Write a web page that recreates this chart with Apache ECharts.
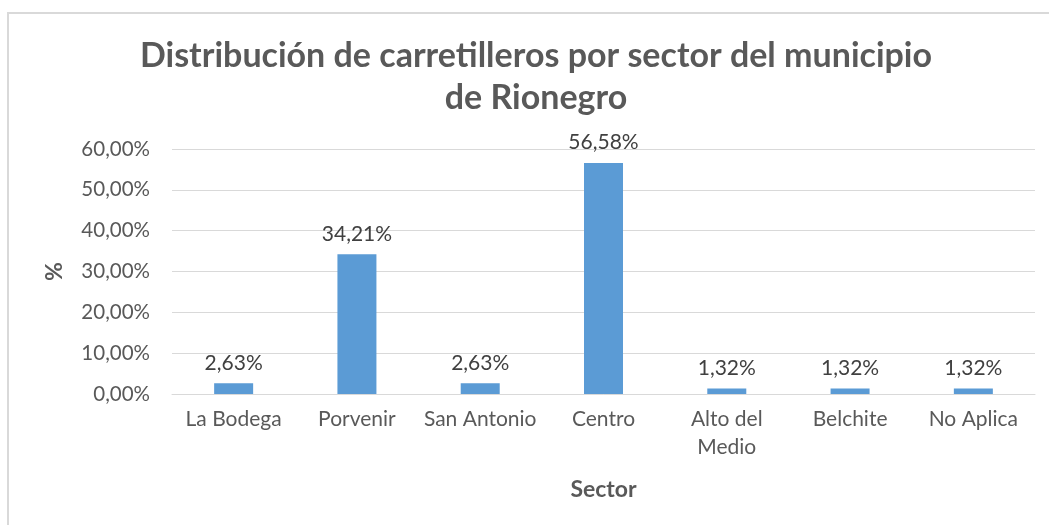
<!DOCTYPE html>
<html>
<head>
<meta charset="utf-8">
<script src="https://cdn.jsdelivr.net/npm/echarts@6/dist/echarts.min.js"></script>
<style>
  html, body { margin: 0; padding: 0; background: #fff; }
  #chart { width: 1049px; height: 525px; }
</style>
</head>
<body>
<div id="chart"></div>
<script>
  const sectors = ['La Bodega', 'Porvenir', 'San Antonio', 'Centro', 'Alto del\nMedio', 'Belchite', 'No Aplica'];
  const percentages = [2.63, 34.21, 2.63, 56.58, 1.32, 1.32, 1.32];
  const yTicks = { min: 0, max: 60, interval: 10 };

  const fmt = v => v.toFixed(2).replace('.', ',') + '%';
  const font = 'Lato, "Open Sans", sans-serif';

  const myChart = echarts.init(document.getElementById('chart'));
  myChart.setOption({
    animation: false,
    textStyle: { fontFamily: font },
    graphic: [{
      type: 'rect',
      shape: { x: 8, y: 13, width: 1200, height: 700 },
      style: { fill: 'none', stroke: '#d9d9d9', lineWidth: 2 },
      silent: true
    }],
    title: {
      text: 'Distribución de carretilleros por sector del municipio\nde Rionegro',
      left: 531,
      top: 30,
      textAlign: 'center',
      textStyle: {
        fontFamily: font,
        fontSize: 34,
        fontWeight: 'bold',
        color: '#595959',
        lineHeight: 42
      }
    },
    grid: { left: 172, right: 14, top: 149, bottom: 131 },
    xAxis: {
      type: 'category',
      data: sectors,
      name: 'Sector',
      nameLocation: 'middle',
      nameGap: 84,
      nameTextStyle: { fontFamily: font, fontSize: 23, fontWeight: 'bold', color: '#595959' },
      axisLine: { lineStyle: { color: '#d9d9d9', width: 1 } },
      axisTick: { show: false },
      axisLabel: { fontSize: 21, color: '#595959', margin: 11, lineHeight: 28, interval: 0 }
    },
    yAxis: {
      type: 'value',
      min: yTicks.min,
      max: yTicks.max,
      interval: yTicks.interval,
      name: '%',
      nameLocation: 'middle',
      nameRotate: 90,
      nameGap: 106,
      nameTextStyle: { fontFamily: font, fontSize: 23, fontWeight: 'bold', color: '#595959' },
      axisLine: { show: false },
      axisTick: { show: false },
      splitLine: { lineStyle: { color: '#d9d9d9', width: 1 } },
      axisLabel: { fontSize: 20.5, color: '#595959', margin: 22, formatter: fmt }
    },
    series: [{
      type: 'bar',
      data: percentages,
      barWidth: 39,
      itemStyle: { color: '#5b9bd5' },
      label: {
        show: true,
        position: 'top',
        distance: 10,
        fontSize: 21,
        color: '#404040',
        formatter: p => fmt(p.value)
      }
    }]
  });
</script>
</body>
</html>
